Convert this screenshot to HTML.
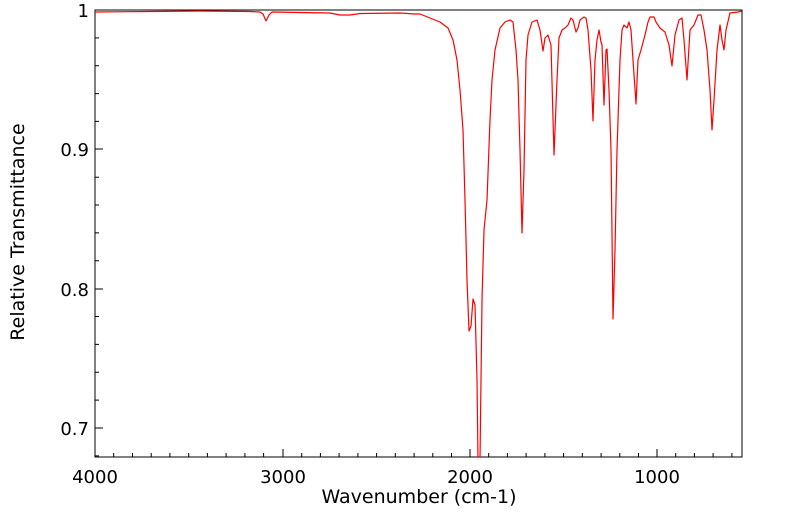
<!DOCTYPE html>
<html><head><style>
body{margin:0;background:#fff;}
svg{display:block;font-family:"DejaVu Sans","Liberation Sans",sans-serif;}
</style></head><body>
<svg width="799" height="516" viewBox="0 0 799 516">
<rect x="95" y="10" width="647" height="447" fill="none" stroke="#000" stroke-width="1"/>
<g stroke="#000" stroke-width="1">
<line x1="95" y1="457" x2="95" y2="449"/>
<line x1="283" y1="457" x2="283" y2="449"/>
<line x1="470" y1="457" x2="470" y2="449"/>
<line x1="657" y1="457" x2="657" y2="449"/>
<path d="M113.7 457v-4M132.5 457v-4M151.2 457v-4M169.9 457v-4M188.7 457v-4M207.4 457v-4M226.1 457v-4M244.9 457v-4M263.6 457v-4
M301.7 457v-4M320.4 457v-4M339.1 457v-4M357.9 457v-4M376.6 457v-4M395.3 457v-4M414.1 457v-4M432.8 457v-4M451.5 457v-4
M488.7 457v-4M507.4 457v-4M526.1 457v-4M544.9 457v-4M563.6 457v-4M582.3 457v-4M601.1 457v-4M619.8 457v-4M638.5 457v-4
M675.7 457v-4M694.4 457v-4M713.1 457v-4M731.9 457v-4"/>
<line x1="95" y1="10" x2="103" y2="10"/>
<line x1="95" y1="149" x2="103" y2="149"/>
<line x1="95" y1="289" x2="103" y2="289"/>
<line x1="95" y1="428" x2="103" y2="428"/>
<path d="M95 37.9h4M95 65.7h4M95 93.6h4M95 121.4h4M95 177.2h4M95 205h4M95 232.9h4M95 260.8h4M95 316.5h4M95 344.4h4M95 372.2h4M95 400.1h4M95 455.9h4"/>
</g>
<g font-size="18" fill="#000">
<text x="89" y="17" text-anchor="end">1</text>
<text x="89" y="156" text-anchor="end">0.9</text>
<text x="89" y="296" text-anchor="end">0.8</text>
<text x="89" y="435" text-anchor="end">0.7</text>
<text x="95" y="483" text-anchor="middle">4000</text>
<text x="283" y="483" text-anchor="middle">3000</text>
<text x="470" y="483" text-anchor="middle">2000</text>
<text x="657" y="483" text-anchor="middle">1000</text>
<text x="419" y="503" text-anchor="middle" font-size="19">Wavenumber (cm-1)</text>
<text transform="translate(24,232) rotate(-90)" text-anchor="middle" font-size="19">Relative Transmittance</text>
</g>
<svg x="95" y="10" width="647" height="447" viewBox="95 10 647 447" overflow="hidden">
<polyline fill="none" stroke="#f00" stroke-width="1.2" stroke-linejoin="round" points="
95,12 150,11.5 200,11 250,11.5 260,12 263,14 266,21 269,15 272,12 300,12.5 330,13 340,15 350,15 360,13.5 400,13 415,14 420,14 430,18 440,22 448,28 453,40 457,60 460,90 463,130 465,200 467,280 469,331 471,326 473,299 475,305 477,380 478,460 480,460 482,300 484,230 487,200 490,120 492,80 495,50 500,28 505,22 510,20 513,22 516,50 518,80 520,150 522,233 524,170 526,60 528,35 532,22 537,20 540,30 543,51 545,38 548,35 551,45 554,155 557,80 559,38 562,30 565,28 568,25 571,18 573,20 576,32 578,28 580,20 584,17 586,18 588,30 591,70 593,121 595,60 597,40 599,30 601,42 602,45 604,105 606,50 607,49 609,90 611,150 613,319 615,250 617,150 620,60 622,30 624,25 627,28 629,22 631,30 633,60 636,104 638,60 641,50 645,35 648,22 650,17 654,17 656,22 660,28 665,32 669,45 672,66 675,35 679,20 682,18 684,40 687,80 690,30 694,25 698,15 701,15 704,30 707,50 710,90 712,130 714,100 717,50 720,25 722,40 724,50 726,30 730,13 738,12 742,11"/>
</svg>
</svg>
</body></html>
